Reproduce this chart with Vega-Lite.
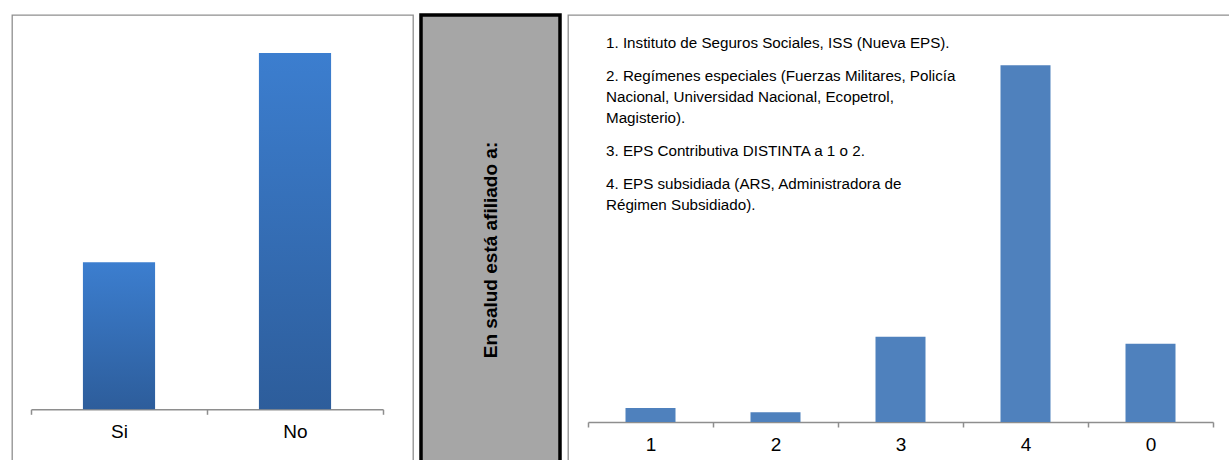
{
  "$schema": "https://vega.github.io/schema/vega-lite/v6.json",
  "padding": {"left": 11, "top": 13, "right": 0, "bottom": 0},
  "background": "white",
  "spacing": 5,
  "config": {
    "font": "Liberation Sans, Arial, sans-serif",
    "axis": {
      "domainColor": "#8e8e8e",
      "domainWidth": 1.5,
      "tickColor": "#8e8e8e",
      "tickWidth": 1.5,
      "tickSize": 5,
      "labelFont": "Liberation Sans, Arial, sans-serif",
      "labelFontSize": 19,
      "labelColor": "black",
      "labelPadding": 8,
      "grid": false
    }
  },
  "datasets": {
    "afiliacion": [
      {"respuesta": "Si", "n": 113},
      {"respuesta": "No", "n": 274}
    ],
    "eps": [
      {"tipo": "1", "n": 10},
      {"tipo": "2", "n": 7},
      {"tipo": "3", "n": 61},
      {"tipo": "4", "n": 255},
      {"tipo": "0", "n": 56}
    ],
    "titulo": [
      {"texto": "En salud está afiliado a:"}
    ],
    "leyenda": [
      {"num": "1", "lineas": ["1. Instituto de Seguros Sociales, ISS (Nueva EPS)."]},
      {"num": "2", "lineas": ["2. Regímenes especiales (Fuerzas Militares, Policía", "Nacional, Universidad Nacional, Ecopetrol,", "Magisterio)."]},
      {"num": "3", "lineas": ["3. EPS Contributiva DISTINTA a 1 o 2."]},
      {"num": "4", "lineas": ["4. EPS subsidiada (ARS, Administradora de", "Régimen Subsidiado)."]}
    ]
  },
  "hconcat": [
    {
      "width": 401,
      "height": 450,
      "view": {"stroke": "#8f8f8f", "strokeWidth": 1.3, "fill": "white"},
      "data": {"name": "afiliacion"},
      "mark": {
        "type": "bar",
        "width": {"band": 0.41},
        "fill": {
          "gradient": "linear", "x1": 0, "y1": 0, "x2": 0, "y2": 1,
          "stops": [
            {"offset": 0, "color": "#3c7ecf"},
            {"offset": 1, "color": "#2d5d9b"}
          ]
        }
      },
      "encoding": {
        "x": {
          "field": "respuesta", "type": "nominal",
          "scale": {"domain": ["Si", "No"], "range": [19, 371], "paddingInner": 0, "paddingOuter": 0},
          "axis": {"title": null, "tickBand": "extent", "offset": -55.7, "labelAngle": 0}
        },
        "y": {
          "field": "n", "type": "quantitative",
          "scale": {"domain": [-42.83, 303.22], "nice": false, "zero": false},
          "axis": null
        }
      }
    },
    {
      "width": 139,
      "height": 450,
      "view": {"fill": "#a6a6a6", "stroke": "black", "strokeWidth": 3.5},
      "data": {"name": "titulo"},
      "mark": {
        "type": "text", "angle": 270, "fontWeight": "bold", "fontSize": 19,
        "color": "black", "align": "center", "baseline": "middle", "dx": -10
      },
      "encoding": {"text": {"field": "texto", "type": "nominal"}}
    },
    {
      "width": 670,
      "height": 450,
      "view": {"stroke": "#8f8f8f", "strokeWidth": 1.3, "fill": "white"},
      "layer": [
        {
          "data": {"name": "eps"},
          "mark": {"type": "bar", "width": {"band": 0.4}, "fill": "#4f81bd"},
          "encoding": {
            "x": {
              "field": "tipo", "type": "nominal",
              "scale": {"domain": ["1", "2", "3", "4", "0"], "range": [20, 645], "paddingInner": 0, "paddingOuter": 0},
              "axis": {"title": null, "tickBand": "extent", "offset": -43, "labelAngle": 0}
            },
            "y": {
              "field": "n", "type": "quantitative",
              "scale": {"domain": [-30.74, 290.96], "nice": false, "zero": false},
              "axis": null
            }
          }
        },
        {
          "data": {"name": "leyenda"},
          "transform": [{"filter": "datum.num == '1'"}],
          "mark": {"type": "text", "align": "left", "baseline": "top", "fontSize": 15.2, "lineHeight": 21, "color": "black"},
          "encoding": {
            "x": {"datum": "1", "type": "nominal", "bandPosition": 0.144},
            "y": {"datum": 275.7, "type": "quantitative"},
            "text": {"field": "lineas", "type": "nominal"}
          }
        },
        {
          "data": {"name": "leyenda"},
          "transform": [{"filter": "datum.num == '2'"}],
          "mark": {"type": "text", "align": "left", "baseline": "top", "fontSize": 15.2, "lineHeight": 21, "color": "black"},
          "encoding": {
            "x": {"datum": "1", "type": "nominal", "bandPosition": 0.144},
            "y": {"datum": 252.1, "type": "quantitative"},
            "text": {"field": "lineas", "type": "nominal"}
          }
        },
        {
          "data": {"name": "leyenda"},
          "transform": [{"filter": "datum.num == '3'"}],
          "mark": {"type": "text", "align": "left", "baseline": "top", "fontSize": 15.2, "lineHeight": 21, "color": "black"},
          "encoding": {
            "x": {"datum": "1", "type": "nominal", "bandPosition": 0.144},
            "y": {"datum": 198.5, "type": "quantitative"},
            "text": {"field": "lineas", "type": "nominal"}
          }
        },
        {
          "data": {"name": "leyenda"},
          "transform": [{"filter": "datum.num == '4'"}],
          "mark": {"type": "text", "align": "left", "baseline": "top", "fontSize": 15.2, "lineHeight": 21, "color": "black"},
          "encoding": {
            "x": {"datum": "1", "type": "nominal", "bandPosition": 0.144},
            "y": {"datum": 174.9, "type": "quantitative"},
            "text": {"field": "lineas", "type": "nominal"}
          }
        }
      ]
    }
  ]
}
